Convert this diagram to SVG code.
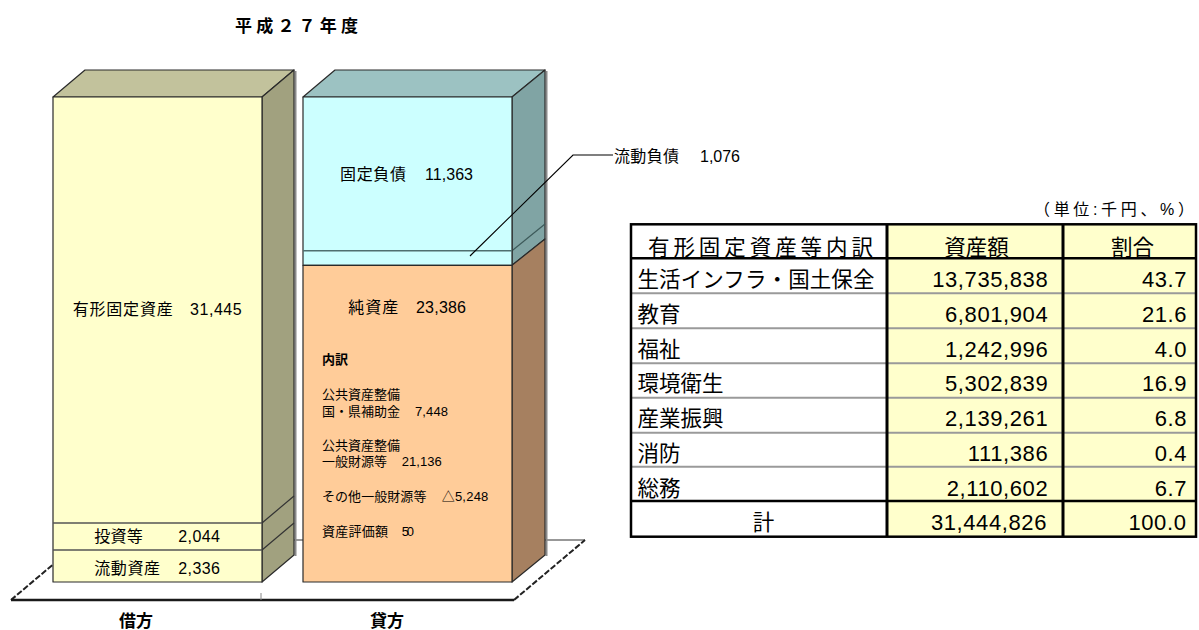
<svg xmlns="http://www.w3.org/2000/svg" width="1199" height="630" viewBox="0 0 1199 630">
<style>
text{font-family:"Liberation Sans","Noto Sans CJK JP",sans-serif;fill:#000}
.lb{font-size:16px}
.sm{font-size:13px}
.tb{font-size:21.5px}
.num{font-size:22px;letter-spacing:0.6px;text-anchor:end}
.edge{stroke:#2a2a2a;stroke-width:1.2;stroke-linejoin:round}
.sep{stroke:#9a9a9a;stroke-width:2}
.thk{stroke:#000;stroke-width:2.5}
</style>
<rect width="1199" height="630" fill="#fff"/>
<g id="title"><text x="235" y="32" font-size="17" font-weight="bold" textLength="123" lengthAdjust="spacing">平成２７年度</text></g>
<g id="floor">
<polygon points="11,600 514,600 585,540 82,540" fill="#fff" stroke="none"/>
<line x1="82" y1="540" x2="585" y2="540" stroke="#333" stroke-width="1.2"/>
<line x1="11" y1="600" x2="82" y2="540" stroke="#222" stroke-width="2" stroke-dasharray="6,2"/>
<line x1="514" y1="600" x2="585" y2="540" stroke="#222" stroke-width="2" stroke-dasharray="6,2"/>
<line x1="11" y1="600" x2="514" y2="600" stroke="#1a1a1a" stroke-width="2.5"/>
<line x1="261" y1="593" x2="261" y2="600" stroke="#888" stroke-width="1"/>
</g>
<g id="bar-debit">
<line x1="295.5" y1="71" x2="295.5" y2="556" stroke="#8a8a8a" stroke-width="2"/>
<polygon class="edge" points="53,97 85,70 294,70 262,97" fill="#C2C29C"/>
<polygon class="edge" points="262,97 294,70 294,555 262,582" fill="#A1A17F"/>
<rect class="edge" x="53" y="97" width="209" height="485" fill="#FFFFCC"/>
<line x1="53" y1="523" x2="262" y2="523" stroke="#555" stroke-width="1.5"/>
<line x1="53" y1="550" x2="262" y2="550" stroke="#555" stroke-width="1.5"/>
<line x1="262" y1="523" x2="294" y2="496" stroke="#333" stroke-width="1.2"/>
<line x1="262" y1="550" x2="294" y2="523" stroke="#333" stroke-width="1.2"/>
<text class="lb" x="72.7" y="315" textLength="100" lengthAdjust="spacing">有形固定資産</text>
<text class="lb" x="190" y="315" textLength="51.7" lengthAdjust="spacing">31,445</text>
<text class="lb" x="94.3" y="542" textLength="48.4" lengthAdjust="spacing">投資等</text>
<text class="lb" x="178.3" y="542" textLength="41.7" lengthAdjust="spacing">2,044</text>
<text class="lb" x="94.3" y="573.5" textLength="65.7" lengthAdjust="spacing">流動資産</text>
<text class="lb" x="178.3" y="573.5" textLength="41.7" lengthAdjust="spacing">2,336</text>
</g>
<g id="bar-credit">
<line x1="546.5" y1="71" x2="546.5" y2="556" stroke="#8a8a8a" stroke-width="2"/>
<polygon class="edge" points="303,97 335,70 545,70 512,97" fill="#9CC2C2"/>
<polygon class="edge" points="512,97 545,70 545,239 512,265.3" fill="#80A4A4"/>
<polygon class="edge" points="512,265.3 545,239 545,555 512,582" fill="#A68060"/>
<line x1="512" y1="250.7" x2="545" y2="224" stroke="#3d5a5a" stroke-width="1.2"/>
<rect class="edge" x="303" y="97" width="209" height="168.3" fill="#CCFFFF"/>
<rect class="edge" x="303" y="265.3" width="209" height="316.7" fill="#FFCC99"/>
<line x1="303" y1="250.7" x2="512" y2="250.7" stroke="#4f6f6f" stroke-width="1.4"/>
<text class="lb" x="340" y="180" textLength="66" lengthAdjust="spacing">固定負債</text>
<text class="lb" x="425" y="180" textLength="48" lengthAdjust="spacing">11,363</text>
<text class="lb" x="348.3" y="313" textLength="50" lengthAdjust="spacing">純資産</text>
<text class="lb" x="416" y="313" textLength="50" lengthAdjust="spacing">23,386</text>
<text class="sm" x="322" y="363.5" font-weight="bold" textLength="26" lengthAdjust="spacing">内訳</text>
<text class="sm" x="322" y="399" textLength="78" lengthAdjust="spacing">公共資産整備</text>
<text class="sm" x="322" y="415.5" textLength="78" lengthAdjust="spacing">国・県補助金</text>
<text class="sm" x="415" y="415.5" textLength="33" lengthAdjust="spacing">7,448</text>
<text class="sm" x="322" y="449.5" textLength="78" lengthAdjust="spacing">公共資産整備</text>
<text class="sm" x="322" y="466" textLength="65" lengthAdjust="spacing">一般財源等</text>
<text class="sm" x="401.7" y="466" textLength="40" lengthAdjust="spacing">21,136</text>
<text class="sm" x="322" y="500.5" textLength="104.4" lengthAdjust="spacing">その他一般財源等</text>
<text class="sm" x="441.7" y="500.5" textLength="46.6" lengthAdjust="spacing">△5,248</text>
<text class="sm" x="322" y="536" textLength="66" lengthAdjust="spacing">資産評価額</text>
<text class="sm" x="401.7" y="536" textLength="12.3" lengthAdjust="spacing">50</text>
</g>
<g id="connectors">
<polyline points="470,256 573,155 613,155" fill="none" stroke="#000" stroke-width="1.2"/>
</g>
<g id="label-current-liab">
<text class="lb" x="614" y="162" textLength="65" lengthAdjust="spacing">流動負債</text>
<text class="lb" x="700" y="162" textLength="40" lengthAdjust="spacing">1,076</text>
</g>
<g id="axis-labels">
<text x="136" y="627" font-size="17" font-weight="bold" text-anchor="middle">借方</text>
<text x="387" y="627" font-size="17" font-weight="bold" text-anchor="middle">貸方</text>
</g>
<g id="table">
<text x="1034" y="215" font-size="16" textLength="160" lengthAdjust="spacing">（単位:千円、%）</text>
<rect x="631" y="224.3" width="256" height="312.4" fill="#fff"/>
<rect x="887" y="224.3" width="309" height="312.4" fill="#FFFFCC"/>
<line class="sep" x1="631" y1="293.3" x2="1196" y2="293.3"/>
<line class="sep" x1="631" y1="328.3" x2="1196" y2="328.3"/>
<line class="sep" x1="631" y1="363.3" x2="1196" y2="363.3"/>
<line class="sep" x1="631" y1="397.7" x2="1196" y2="397.7"/>
<line class="sep" x1="631" y1="432.7" x2="1196" y2="432.7"/>
<line class="sep" x1="631" y1="466.7" x2="1196" y2="466.7"/>
<line class="thk" x1="631" y1="258.3" x2="1196" y2="258.3"/>
<line class="thk" x1="631" y1="501" x2="1196" y2="501"/>
<line x1="887" y1="224.3" x2="887" y2="536.7" stroke="#000" stroke-width="3"/>
<line x1="1063" y1="224.3" x2="1063" y2="536.7" stroke="#000" stroke-width="3"/>
<rect x="631" y="224.3" width="565" height="312.4" fill="none" stroke="#000" stroke-width="2.5"/>
<text class="tb" x="760.5" y="255" text-anchor="middle" textLength="225" lengthAdjust="spacing">有形固定資産等内訳</text>
<text class="tb" x="976.5" y="255" text-anchor="middle">資産額</text>
<text class="tb" x="1132.5" y="255" text-anchor="middle">割合</text>
<text class="tb" x="637.5" y="287" textLength="237" lengthAdjust="spacing">生活インフラ・国土保全</text>
<text class="tb" x="637.5" y="321.8">教育</text>
<text class="tb" x="637.5" y="356.5">福祉</text>
<text class="tb" x="637.5" y="391.3">環境衛生</text>
<text class="tb" x="637.5" y="426">産業振興</text>
<text class="tb" x="637.5" y="460.8">消防</text>
<text class="tb" x="637.5" y="495.5">総務</text>
<text class="tb" x="763.5" y="530" text-anchor="middle">計</text>
<text class="num" x="1048.3" y="287">13,735,838</text>
<text class="num" x="1048.3" y="321.8">6,801,904</text>
<text class="num" x="1048.3" y="356.5">1,242,996</text>
<text class="num" x="1048.3" y="391.3">5,302,839</text>
<text class="num" x="1048.3" y="426">2,139,261</text>
<text class="num" x="1048.3" y="460.8">111,386</text>
<text class="num" x="1048.3" y="495.5">2,110,602</text>
<text class="num" x="1047" y="530" font-size="23" letter-spacing="1.5">31,444,826</text>
<text class="num" x="1187.1" y="287">43.7</text>
<text class="num" x="1187.1" y="321.8">21.6</text>
<text class="num" x="1187.1" y="356.5">4.0</text>
<text class="num" x="1187.1" y="391.3">16.9</text>
<text class="num" x="1187.1" y="426">6.8</text>
<text class="num" x="1187.1" y="460.8">0.4</text>
<text class="num" x="1187.1" y="495.5">6.7</text>
<text class="num" x="1186.5" y="530" font-size="23" letter-spacing="0.6">100.0</text>
</g>
</svg>
